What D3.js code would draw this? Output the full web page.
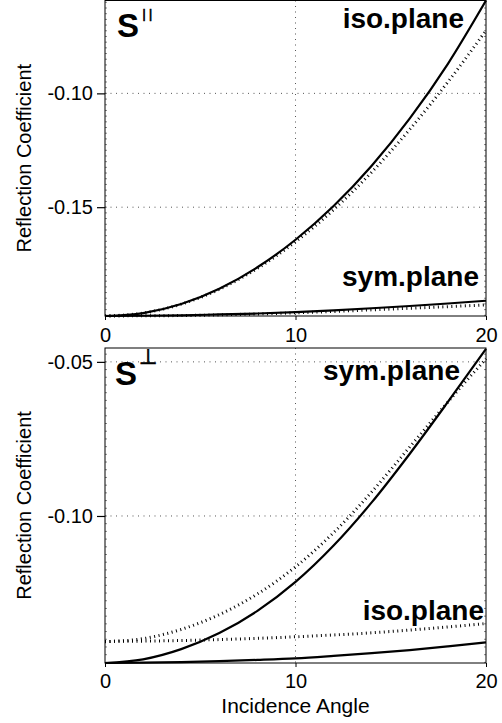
<!DOCTYPE html>
<html>
<head>
<meta charset="utf-8">
<script src="https://cdn.jsdelivr.net/npm/d3@7"></script>
<style>
    body { margin: 0; background: #fff; }
    text { font-family: "Liberation Sans", Arial, sans-serif; fill: #000; }
</style>
</head>
<body>
<div id="content-area"></div>
<script>
// Incidence angles (degrees)
const angles = [0, 2, 4, 6, 8, 10, 12, 14, 16, 18, 20];

// Top panel (S parallel)
const parIsoSolid  = [-0.1978, -0.1965, -0.1925, -0.1858, -0.1764, -0.1643, -0.1495, -0.1318, -0.1110, -0.0870, -0.0592];
const parIsoDotted = [-0.1978, -0.1965, -0.1926, -0.1861, -0.1769, -0.1652, -0.1511, -0.1346, -0.1158, -0.0950, -0.0724];
const parSymSolid  = [-0.1978, -0.1977, -0.1975, -0.1971, -0.1967, -0.1961, -0.1953, -0.1944, -0.1934, -0.1923, -0.1911];
const parSymDotted = [-0.1978, -0.1977, -0.1976, -0.1973, -0.1969, -0.1964, -0.1958, -0.1951, -0.1944, -0.1937, -0.1929];

// Bottom panel (S perpendicular)
const perpSymSolid  = [-0.1477, -0.1465, -0.1432, -0.1380, -0.1308, -0.1214, -0.1096, -0.0956, -0.0798, -0.0630, -0.0458];
const perpSymDotted = [-0.1408, -0.1398, -0.1368, -0.1320, -0.1253, -0.1165, -0.1054, -0.0922, -0.0776, -0.0630, -0.0490];
const perpIsoSolid  = [-0.1477, -0.1476, -0.1474, -0.1471, -0.1467, -0.1462, -0.1454, -0.1445, -0.1435, -0.1423, -0.1410];
const perpIsoDotted = [-0.1407, -0.1406, -0.1404, -0.1401, -0.1397, -0.1392, -0.1386, -0.1379, -0.1370, -0.1360, -0.1349];

// Tick values
const xTicks = [0, 10, 20];
const parYTicks = [-0.10, -0.15];
const perpYTicks = [-0.05, -0.10];

function init() {
    const w = 502;
    const h = 723;
    const left = 105;
    const right = 486;

    const svg = d3.select("#content-area")
                    .append("svg")
                    .attr("width", w)
                    .attr("height", h);

    const x = d3.scaleLinear().domain([0, 20]).range([left, right]);

    // Top panel
    panel({
        top: 0.5, bottom: 316,
        domain: [-0.1978, -0.0592],
        yTicks: parYTicks,
        series: [[parIsoSolid, false], [parIsoDotted, true], [parSymSolid, false], [parSymDotted, true]],
        labels: [["iso.plane", 464, 28], ["sym.plane", 479, 286]],
        sup: "||", supFont: "Liberation Sans", supSize: 12, supX: 142.5, supY: 17.7,
        sX: 117, sY: 37, tickLabelY: 342
    });

    // Bottom panel
    panel({
        top: 348, bottom: 663,
        domain: [-0.1477, -0.0455],
        yTicks: perpYTicks,
        series: [[perpSymSolid, false], [perpSymDotted, true], [perpIsoSolid, false], [perpIsoDotted, true]],
        labels: [["sym.plane", 460, 380], ["iso.plane", 484, 620]],
        sup: "\u22A5", supFont: "DejaVu Sans", supSize: 21, supX: 138.5, supY: 364,
        sX: 115, sY: 385, tickLabelY: 688
    });

    // Axis titles
    svg.append("text")
        .attr("x", (left + right) / 2)
        .attr("y", 713)
        .attr("text-anchor", "middle")
        .attr("font-size", "21px")
        .text("Incidence Angle");

    [[0.5, 316], [348, 663]].forEach(function(p) {
        svg.append("text")
            .attr("transform", "translate(31," + (p[0] + p[1]) / 2 + ") rotate(-90)")
            .attr("text-anchor", "middle")
            .attr("font-size", "20px")
            .text("Reflection Coefficient");
    });

    function panel(o) {
        const y = d3.scaleLinear().domain(o.domain).range([o.bottom, o.top]);
        const g = svg.append("g");

        // Grid lines
        g.selectAll(".hgrid")
            .data(o.yTicks)
            .enter()
            .append("line")
            .attr("x1", left).attr("x2", right)
            .attr("y1", d => y(d)).attr("y2", d => y(d))
            .attr("stroke", "#555")
            .attr("stroke-width", 1)
            .attr("stroke-dasharray", "1,4.5");
        g.append("line")
            .attr("x1", x(10)).attr("x2", x(10))
            .attr("y1", o.top).attr("y2", o.bottom)
            .attr("stroke", "#555")
            .attr("stroke-width", 1)
            .attr("stroke-dasharray", "1,4.5");

        // Minor ticks inside left and right edges
        const minor = d3.range(Math.ceil(o.domain[0] / 0.0025), Math.floor(o.domain[1] / 0.0025) + 1)
                        .map(k => k * 0.0025);
        [[left, 2], [right, -2]].forEach(function(s) {
            g.selectAll(null)
                .data(minor)
                .enter()
                .append("line")
                .attr("x1", s[0]).attr("x2", s[0] + s[1])
                .attr("y1", d => y(d)).attr("y2", d => y(d))
                .attr("stroke", "#666")
                .attr("stroke-width", 0.8);
        });

        // Curves
        const line = d3.line()
                        .x((d, i) => x(angles[i]))
                        .y(d => y(d))
                        .curve(d3.curveMonotoneX);
        o.series.forEach(function(s) {
            g.append("path")
                .attr("d", line(s[0]))
                .attr("fill", "none")
                .attr("stroke", "#000")
                .attr("stroke-width", s[1] ? 3 : 2.2)
                .attr("stroke-dasharray", s[1] ? "1,3.5" : null);
        });

        // Frame
        g.append("rect")
            .attr("x", left).attr("y", o.top)
            .attr("width", right - left).attr("height", o.bottom - o.top)
            .attr("fill", "none")
            .attr("stroke", "#000")
            .attr("stroke-width", 1);

        // Y axis
        const yAxis = d3.axisLeft(y)
                        .tickValues(o.yTicks)
                        .tickSize(8)
                        .tickPadding(4)
                        .tickFormat(d => d.toFixed(2));
        const ya = g.append("g")
                    .attr("transform", "translate(" + left + ",0)")
                    .call(yAxis);
        ya.select(".domain").remove();
        ya.selectAll("line").attr("stroke-width", 1.2);
        ya.selectAll("text")
            .attr("font-size", "20px")
            .attr("font-family", "Liberation Sans, Arial, sans-serif")
            .attr("fill", "#000");

        // X axis
        const xAxis = d3.axisBottom(x)
                        .tickValues(xTicks)
                        .tickSize(4)
                        .tickFormat(d3.format("d"));
        const xa = g.append("g")
                    .attr("transform", "translate(0," + o.bottom + ")")
                    .call(xAxis);
        xa.select(".domain").remove();
        xa.selectAll("text")
            .attr("y", null).attr("dy", null)
            .attr("transform", "translate(0," + (o.tickLabelY - o.bottom) + ")")
            .attr("font-size", "20px")
            .attr("font-family", "Liberation Sans, Arial, sans-serif")
            .attr("fill", "#000");

        // Panel labels
        o.labels.forEach(function(l) {
            g.append("text")
                .attr("x", l[1]).attr("y", l[2])
                .attr("text-anchor", "end")
                .attr("font-size", "28px")
                .attr("font-weight", "bold")
                .text(l[0]);
        });

        // S with superscript
        g.append("text")
            .attr("x", o.sX).attr("y", o.sY)
            .attr("font-size", "33px")
            .attr("font-weight", "bold")
            .text("S");
        g.append("text")
            .attr("x", o.supX).attr("y", o.supY)
            .attr("font-size", o.supSize + "px")
            .attr("font-family", o.supFont)
            .attr("fill", "#000")
            .attr("stroke", "#000")
            .attr("stroke-width", 0.7)
            .attr("letter-spacing", o.sup === "||" ? "3.5px" : null)
            .text(o.sup);
    }
}

window.onload = init;
</script>
</body>
</html>
